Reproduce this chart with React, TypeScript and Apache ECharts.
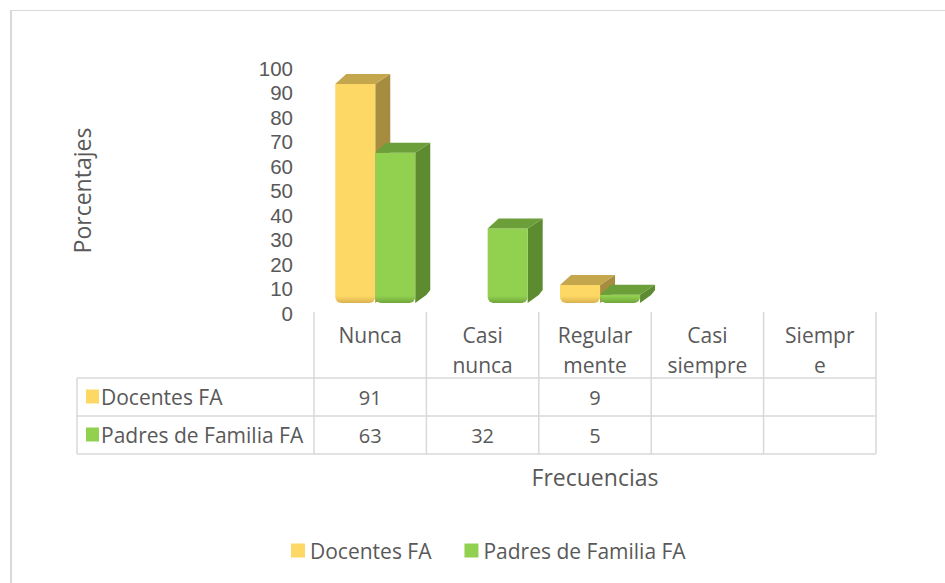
import React, { useEffect, useRef } from "react";
import * as echarts from "echarts";

const categories = ["Nunca", "Casi nunca", "Regularmente", "Casi siempre", "Siempre"];
const headerLabels = ["Nunca", "Casi\nnunca", "Regular\nmente", "Casi\nsiempre", "Siempr\ne"];
const seriesNames = ["Docentes FA", "Padres de Familia FA"];
const docentes: (number | null)[] = [91, null, 9, null, null];
const padres: (number | null)[] = [63, 32, 5, null, null];
const yTicks = { min: 0, max: 100, interval: 10 };

const FONT = "Open Sans";
const TXT = "#595959";
const LINE = "#d9d9d9";
const FS = 21;

const palettes = [
  { front: "#FDD865", top: "#C4A64C", side: "#A68C3F", bottom: "#D9B24E" },
  { front: "#92D050", top: "#6C9F3A", side: "#5D8B30", bottom: "#6FA63A" },
];

// layout constants
const GRID_L = 314;
const GRID_R = 876;
const AXIS_Y = 313;
const TOP_Y = 68;
const ROW_LINES = [378, 416, 454];
const TABLE_L = 77;

function makeRender(sIdx: number) {
  const p = palettes[sIdx];
  return (params: any, api: any) => {
    const idx = api.value(0);
    const v = api.value(1);
    if (v == null || isNaN(v)) return null;
    const c = api.coord([idx, v]);
    const z = api.coord([idx, 0]);
    const bandW = api.size([1, 0])[0];
    const w = bandW * 0.356;
    const L = c[0] + bandW * (sIdx === 0 ? -0.311 : 0.045);
    const R = L + w;
    const T = c[1] - 6;
    const B = z[1] - 10;
    const h = Math.max(B - T, 1);
    const dxL = 11;
    const dxR = 15;
    const dy = -10;
    const stopA = Math.max(0, 1 - 7 / h);
    return {
      type: "group",
      children: [
        {
          type: "polygon",
          shape: { points: [[R, T], [R + dxR, T + dy], [R + dxR, B + dy - 3], [R + dxR - 4, B + dy + 2], [R, B]] },
          style: { fill: p.side },
        },
        {
          type: "rect",
          shape: { x: L, y: T, width: w, height: h, r: [0, 0, 6, 6] },
          style: {
            fill: new echarts.graphic.LinearGradient(0, 0, 0, 1, [
              { offset: 0, color: p.front },
              { offset: stopA, color: p.front },
              { offset: 1, color: p.bottom },
            ]),
          },
        },
        {
          type: "polygon",
          shape: { points: [[L, T], [R, T], [R + dxR, T + dy], [L + dxL, T + dy]] },
          style: { fill: p.top },
        },
      ],
    };
  };
}

export default function App() {
  const ref = useRef<HTMLDivElement>(null);
  useEffect(() => {
    if (!ref.current) return;
    const chart = echarts.init(ref.current, null, { renderer: "svg" });
    const colW = (GRID_R - GRID_L) / categories.length;
    const colCenter = (i: number) => GRID_L + (i + 0.5) * colW;
    const rowCenter = (r: number) => (ROW_LINES[r] + ROW_LINES[r + 1]) / 2;

    const graphics: any[] = [];
    // outer frame (left & top)
    graphics.push({ type: "line", shape: { x1: 11, y1: 10, x2: 11, y2: 583 }, style: { stroke: LINE, lineWidth: 2 } });
    graphics.push({ type: "line", shape: { x1: 10, y1: 10.5, x2: 945, y2: 10.5 }, style: { stroke: LINE, lineWidth: 1 } });
    // table horizontal lines
    ROW_LINES.forEach((y) => {
      graphics.push({ type: "line", shape: { x1: TABLE_L, y1: y, x2: GRID_R, y2: y }, style: { stroke: LINE, lineWidth: 1.5 } });
    });
    // table left border
    graphics.push({ type: "line", shape: { x1: TABLE_L, y1: ROW_LINES[0], x2: TABLE_L, y2: ROW_LINES[2] }, style: { stroke: LINE, lineWidth: 1.5 } });
    // column lines
    for (let i = 0; i <= categories.length; i++) {
      const x = GRID_L + i * colW;
      graphics.push({ type: "line", shape: { x1: x, y1: AXIS_Y - 1, x2: x, y2: ROW_LINES[2] }, style: { stroke: LINE, lineWidth: 1.5 } });
    }
    const rows = [docentes, padres];
    rows.forEach((vals, r) => {
      const cy = rowCenter(r);
      graphics.push({ type: "rect", shape: { x: 86, y: cy - 7.5, width: 13, height: 14 }, style: { fill: palettes[r].front } });
      graphics.push({
        type: "text",
        x: 101,
        y: cy,
        style: { text: seriesNames[r], fill: TXT, font: `${FS}px "${FONT}"`, textAlign: "left", textVerticalAlign: "middle" },
      });
      vals.forEach((v, i) => {
        if (v == null) return;
        graphics.push({
          type: "text",
          x: colCenter(i),
          y: cy,
          style: { text: String(v), fill: TXT, font: `20px "${FONT}"`, textAlign: "center", textVerticalAlign: "middle" },
        });
      });
    });
    // header labels
    headerLabels.forEach((lab, i) => {
      lab.split("\n").forEach((line, k) => {
        graphics.push({
          type: "text",
          x: colCenter(i),
          y: 335 + k * 30,
          style: { text: line, fill: TXT, font: `${FS}px "${FONT}"`, textAlign: "center", textVerticalAlign: "middle" },
        });
      });
    });
    graphics.push({
      type: "text",
      x: (GRID_L + GRID_R) / 2,
      y: 477,
      style: { text: "Frecuencias", fill: TXT, font: `23px "${FONT}"`, textAlign: "center", textVerticalAlign: "middle" },
    });

    chart.setOption({
      animation: false,
      textStyle: { fontFamily: FONT },
      grid: { left: GRID_L, right: 945 - GRID_R, top: TOP_Y, bottom: 583 - AXIS_Y },
      legend: {
        data: seriesNames,
        left: 291,
        top: 540,
        padding: 0,
        itemWidth: 14,
        itemHeight: 14,
        itemGap: 33,
        icon: "rect",
        textStyle: { fontSize: FS, color: TXT, fontFamily: FONT, padding: [0, 0, 0, 0] },
      },
      xAxis: {
        type: "category",
        data: categories,
        axisLine: { show: false },
        axisTick: { show: false },
        axisLabel: { show: false },
        splitLine: { show: false },
      },
      yAxis: {
        type: "value",
        min: yTicks.min,
        max: yTicks.max,
        interval: yTicks.interval,
        axisLine: { show: false },
        axisTick: { show: false },
        splitLine: { show: false },
        axisLabel: { fontSize: 20.5, lineHeight: 21, color: TXT, fontFamily: "Liberation Sans", margin: 21 },
        name: "Porcentajes",
        nameLocation: "middle",
        nameGap: 221,
        nameRotate: 90,
        nameTextStyle: { fontSize: 23, color: TXT, fontFamily: FONT },
      },
      graphic: graphics,
      series: [docentes, padres].map((vals, s) => ({
        type: "custom",
        name: seriesNames[s],
        renderItem: makeRender(s),
        itemStyle: { color: palettes[s].front },
        encode: { x: 0, y: 1 },
        data: vals.map((v, i) => (v == null ? null : [i, v])).filter((d) => d !== null),
      })),
    });
    return () => chart.dispose();
  }, []);
  return <div ref={ref} style={{ position: "fixed", left: 0, top: 0, width: 945, height: 583, background: "#fff" }} />;
}
